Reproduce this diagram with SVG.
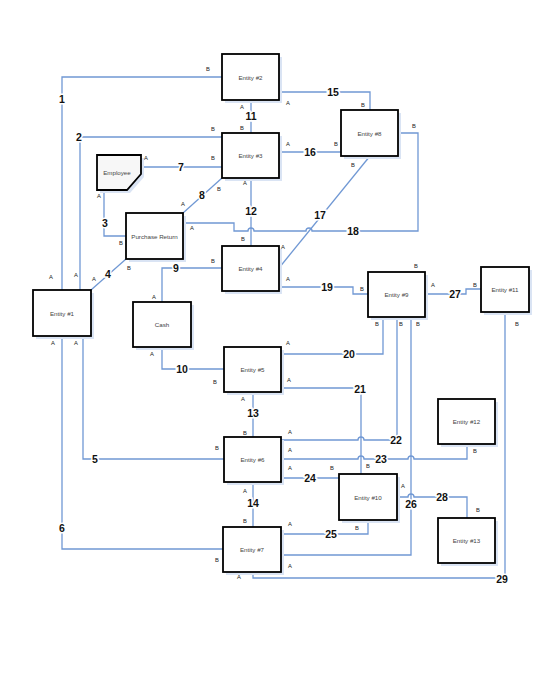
<svg xmlns="http://www.w3.org/2000/svg" width="554" height="676" viewBox="0 0 554 676">
<style>
.sh{fill:#dae4f4}
.bx{fill:#fff;stroke:#000;stroke-width:1.8}
.et{font-family:"Liberation Sans",Arial,sans-serif;font-size:6.2px;fill:#444;text-anchor:middle;dominant-baseline:central}
.c{fill:none;stroke:#7098d4;stroke-width:1.3}
.n{font-family:"Liberation Sans",Arial,sans-serif;font-size:10.5px;font-weight:bold;fill:#111;text-anchor:middle;dominant-baseline:central;stroke:#fff;stroke-width:3;paint-order:stroke}
.r{font-family:"Liberation Sans",Arial,sans-serif;font-size:5.8px;fill:#222;text-anchor:middle;dominant-baseline:central}
</style>
<rect width="554" height="676" fill="#fff"/>
<g id="connectors">
<path class="c" d="M62,290 V77 H222"/>
<path class="c" d="M80,290 V137 H222"/>
<path class="c" d="M104,190 V236 H126"/>
<path class="c" d="M91,290 L126,259"/>
<path class="c" d="M83,336 V459 H224"/>
<path class="c" d="M62,336 V549 H223"/>
<path class="c" d="M141,167 H222"/>
<path class="c" d="M183,213 L222,178"/>
<path class="c" d="M222,268 H162 V302"/>
<path class="c" d="M162,347 V369 H224"/>
<path class="c" d="M251,100 V133"/>
<path class="c" d="M251,178 V246"/>
<path class="c" d="M253,392 V437"/>
<path class="c" d="M253,482 V527"/>
<path class="c" d="M279,92 H370 V110"/>
<path class="c" d="M279,152 H341"/>
<path class="c" d="M370,156 L279,268"/>
<path class="c" d="M183,223 H234 V231 H248 a3,3 0 0 1 6,0 H306 a3,3 0 0 1 6,0 H418 V133 H398"/>
<path class="c" d="M279,287 H353 V294 H368"/>
<path class="c" d="M383,317 V354 H281"/>
<path class="c" d="M281,388 H361 V474"/>
<path class="c" d="M397,317 V440 H364 a3,3 0 0 0 -6,0 H281"/>
<path class="c" d="M281,459 H358 a3,3 0 0 1 6,0 H408 a3,3 0 0 1 6,0 H467 V444"/>
<path class="c" d="M281,478 H339"/>
<path class="c" d="M281,534 H368 V520"/>
<path class="c" d="M411,317 V555 H281"/>
<path class="c" d="M425,294 H466 V289 H481"/>
<path class="c" d="M397,497 H408 a3,3 0 0 1 6,0 H467 V518"/>
<path class="c" d="M505,312 V578 H253 V572"/>
<g>
<text class="n" x="62" y="99">1</text>
<text class="n" x="79" y="137">2</text>
<text class="n" x="105" y="223">3</text>
<text class="n" x="108" y="274">4</text>
<text class="n" x="95" y="459">5</text>
<text class="n" x="62" y="528">6</text>
<text class="n" x="181" y="167">7</text>
<text class="n" x="202" y="195">8</text>
<text class="n" x="176" y="268">9</text>
<text class="n" x="182" y="369">10</text>
<text class="n" x="251" y="116">11</text>
<text class="n" x="251" y="211">12</text>
<text class="n" x="253" y="413">13</text>
<text class="n" x="253" y="503">14</text>
<text class="n" x="333" y="92">15</text>
<text class="n" x="310" y="152">16</text>
<text class="n" x="320" y="215">17</text>
<text class="n" x="353" y="231">18</text>
<text class="n" x="327" y="287">19</text>
<text class="n" x="349" y="354">20</text>
<text class="n" x="360" y="389">21</text>
<text class="n" x="396" y="440">22</text>
<text class="n" x="381" y="459">23</text>
<text class="n" x="310" y="478">24</text>
<text class="n" x="331" y="534">25</text>
<text class="n" x="411" y="504">26</text>
<text class="n" x="455" y="294">27</text>
<text class="n" x="442" y="497">28</text>
<text class="n" x="502" y="579">29</text>
</g>
<g>
<text class="r" x="208" y="69">B</text><text class="r" x="51" y="277">A</text>
<text class="r" x="213" y="129">B</text><text class="r" x="76" y="275">A</text>
<text class="r" x="99" y="196">A</text><text class="r" x="121" y="243">B</text>
<text class="r" x="94" y="279">A</text><text class="r" x="129" y="268">B</text>
<text class="r" x="76" y="343">A</text><text class="r" x="217" y="448">B</text>
<text class="r" x="53" y="343">A</text><text class="r" x="217" y="560">B</text>
<text class="r" x="146" y="158">A</text><text class="r" x="213" y="158">B</text>
<text class="r" x="183" y="204">A</text><text class="r" x="219" y="189">B</text>
<text class="r" x="213" y="261">B</text><text class="r" x="154" y="297">A</text>
<text class="r" x="152" y="354">A</text><text class="r" x="215" y="382">B</text>
<text class="r" x="242" y="107">A</text><text class="r" x="242" y="128">B</text>
<text class="r" x="245" y="183">A</text><text class="r" x="243" y="239">B</text>
<text class="r" x="243" y="399">A</text><text class="r" x="245" y="433">B</text>
<text class="r" x="245" y="491">A</text><text class="r" x="245" y="521">B</text>
<text class="r" x="288" y="103">A</text><text class="r" x="363" y="105">B</text>
<text class="r" x="288" y="144">A</text><text class="r" x="336" y="144">B</text>
<text class="r" x="353" y="165">B</text><text class="r" x="283" y="247">A</text>
<text class="r" x="192" y="228">A</text><text class="r" x="414" y="126">B</text>
<text class="r" x="288" y="279">A</text><text class="r" x="362" y="289">B</text>
<text class="r" x="288" y="343">A</text><text class="r" x="377" y="324">B</text>
<text class="r" x="289" y="380">A</text><text class="r" x="368" y="466">B</text>
<text class="r" x="290" y="432">A</text><text class="r" x="401" y="324">B</text>
<text class="r" x="290" y="450">A</text><text class="r" x="475" y="451">B</text>
<text class="r" x="290" y="468">A</text><text class="r" x="332" y="468">B</text>
<text class="r" x="290" y="524">A</text><text class="r" x="357" y="528">B</text>
<text class="r" x="290" y="566">A</text><text class="r" x="418" y="324">B</text>
<text class="r" x="433" y="285">A</text><text class="r" x="475" y="285">B</text>
<text class="r" x="403" y="486">A</text><text class="r" x="478" y="510">B</text>
<text class="r" x="517" y="324">B</text><text class="r" x="239" y="577">A</text>
<text class="r" x="416" y="266">B</text>
</g>
</g>
<g id="entity1"><rect class="sh" x="36" y="293" width="58" height="46"/><rect class="bx" x="33" y="290" width="58" height="46"/><text class="et" x="62" y="313">Entity #1</text></g>
<g id="entity2"><rect class="sh" x="225" y="57" width="57" height="46"/><rect class="bx" x="222" y="54" width="57" height="46"/><text class="et" x="250.5" y="77">Entity #2</text></g>
<g id="entity3"><rect class="sh" x="225" y="136" width="57" height="45"/><rect class="bx" x="222" y="133" width="57" height="45"/><text class="et" x="250.5" y="155.5">Entity #3</text></g>
<g id="entity4"><rect class="sh" x="225" y="249" width="57" height="45"/><rect class="bx" x="222" y="246" width="57" height="45"/><text class="et" x="250.5" y="268.5">Entity #4</text></g>
<g id="entity5"><rect class="sh" x="227" y="350" width="57" height="45"/><rect class="bx" x="224" y="347" width="57" height="45"/><text class="et" x="252.5" y="369.5">Entity #5</text></g>
<g id="entity6"><rect class="sh" x="227" y="440" width="57" height="45"/><rect class="bx" x="224" y="437" width="57" height="45"/><text class="et" x="252.5" y="459.5">Entity #6</text></g>
<g id="entity7"><rect class="sh" x="226" y="530" width="58" height="45"/><rect class="bx" x="223" y="527" width="58" height="45"/><text class="et" x="252" y="549.5">Entity #7</text></g>
<g id="entity8"><rect class="sh" x="344" y="113" width="57" height="46"/><rect class="bx" x="341" y="110" width="57" height="46"/><text class="et" x="369.5" y="133">Entity #8</text></g>
<g id="entity9"><rect class="sh" x="371" y="275" width="57" height="45"/><rect class="bx" x="368" y="272" width="57" height="45"/><text class="et" x="396.5" y="294.5">Entity #9</text></g>
<g id="entity10"><rect class="sh" x="342" y="477" width="58" height="46"/><rect class="bx" x="339" y="474" width="58" height="46"/><text class="et" x="368" y="497">Entity #10</text></g>
<g id="entity11"><rect class="sh" x="484" y="270" width="48" height="45"/><rect class="bx" x="481" y="267" width="48" height="45"/><text class="et" x="505" y="289.5">Entity #11</text></g>
<g id="entity12"><rect class="sh" x="441" y="402" width="57" height="45"/><rect class="bx" x="438" y="399" width="57" height="45"/><text class="et" x="466.5" y="421.5">Entity #12</text></g>
<g id="entity13"><rect class="sh" x="441" y="521" width="57" height="45"/><rect class="bx" x="438" y="518" width="57" height="45"/><text class="et" x="466.5" y="540.5">Entity #13</text></g>
<g id="employee"><path class="sh" d="M100,158 H144 V177 L130,193 H100 Z"/><path class="bx" style="fill:#f7f7f7" d="M97,155 H141 V174 L127,190 H97 Z"/><text class="et" x="117" y="172">Employee</text></g>
<g id="purchase-return"><rect class="sh" x="129" y="216" width="57" height="46"/><rect class="bx" x="126" y="213" width="57" height="46"/><text class="et" x="154.5" y="236">Purchase Return</text></g>
<g id="cash"><rect class="sh" x="136" y="305" width="58" height="45"/><rect class="bx" x="133" y="302" width="58" height="45"/><text class="et" x="162" y="324.5">Cash</text></g>
</svg>
